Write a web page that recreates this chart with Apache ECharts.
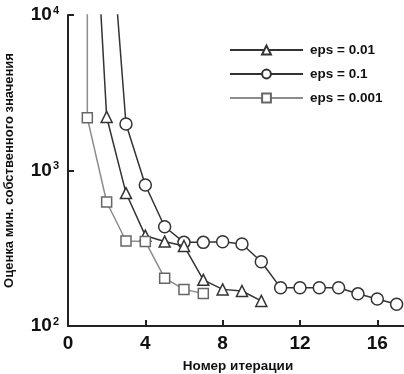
<!DOCTYPE html>
<html>
<head>
<meta charset="utf-8">
<script src="https://cdn.jsdelivr.net/npm/echarts@6/dist/echarts.min.js"></script>
<style>
  html, body { margin: 0; padding: 0; background: #fff; }
  #chart { width: 404px; height: 374px; }
</style>
</head>
<body>
<div id="chart"></div>
<script>
// Values (first point of each run is off the top of the plot)
const xTri = [1, 2, 3, 4, 5, 6, 7, 8, 9, 10];
const yTri = [380000, 2210, 716, 381, 349, 327, 198, 172, 168, 145];

const xCirc = [2, 3, 4, 5, 6, 7, 8, 9, 10, 11, 12, 13, 14, 15, 16, 17];
const yCirc = [82000, 1990, 807, 435, 345, 345, 348, 337, 259, 176, 176, 176, 176, 161, 149, 138];

const xSq = [1, 1, 2, 3, 4, 5, 6, 7];
const ySq = [1000000, 2180, 627, 352, 350, 203, 172, 162];

const seriesNames = ['eps = 0.01', 'eps = 0.1', 'eps = 0.001'];
const xTicks = [0, 4, 8, 12, 16];

const pairs = (xs, ys) => xs.map((x, i) => [x, ys[i]]);

const font = 'Liberation Sans, Arial, sans-serif';
const chart = echarts.init(document.getElementById('chart'));

chart.setOption({
  animation: false,
  backgroundColor: '#fff',
  textStyle: { fontFamily: font },
  grid: { left: 68, top: 15, width: 386.6, height: 311, containLabel: false, outerBoundsMode: 'none' },
  legend: {
    orient: 'vertical',
    left: 224,
    top: 38,
    itemWidth: 73,
    itemHeight: 11,
    itemGap: 10,
    data: seriesNames,
    textStyle: { fontSize: 13.5, fontWeight: 'bold', color: '#111', padding: [0, 0, 0, 2] }
  },
  xAxis: {
    type: 'value',
    min: 0,
    max: 20,
    interval: 4,
    axisLine: { lineStyle: { color: '#222', width: 2 } },
    axisTick: { inside: true, length: 6, lineStyle: { color: '#222', width: 2 } },
    splitLine: { show: false },
    axisLabel: {
      margin: 8,
      fontSize: 19,
      fontWeight: 'bold',
      color: '#111',
      formatter: (v) => (xTicks.indexOf(v) >= 0 ? String(v) : '')
    }
  },
  yAxis: {
    type: 'log',
    logBase: 10,
    min: 100,
    max: 10000,
    name: 'Оценка мин. собственного значения',
    nameLocation: 'middle',
    nameGap: 52,
    nameTextStyle: { fontSize: 13, fontWeight: 'bold', color: '#111' },
    axisLine: { show: true, lineStyle: { color: '#222', width: 2 } },
    axisTick: { show: true, inside: true, length: 6, lineStyle: { color: '#222', width: 2 } },
    splitLine: { show: false },
    minorTick: { show: false },
    axisLabel: {
      margin: 9,
      formatter: (v) => '{b|10}{s|' + Math.round(Math.log10(v)) + '}',
      rich: {
        b: { fontSize: 19, fontWeight: 'bold', color: '#111', lineHeight: 20 },
        s: { fontSize: 11, fontWeight: 'bold', color: '#111', verticalAlign: 'top', padding: [0, 0, 0, 1] }
      }
    }
  },
  graphic: [{
    type: 'text',
    x: 238,
    y: 366,
    style: {
      text: 'Номер итерации',
      font: 'bold 13.5px ' + font,
      fill: '#111',
      textAlign: 'center',
      textVerticalAlign: 'middle'
    }
  }],
  series: [
    {
      name: seriesNames[0],
      type: 'line',
      data: pairs(xTri, yTri),
      symbol: 'triangle',
      symbolSize: 11,
      lineStyle: { color: '#333', width: 1.5 },
      itemStyle: { color: '#fff', borderColor: '#333', borderWidth: 1.5 },
      z: 3
    },
    {
      name: seriesNames[1],
      type: 'line',
      data: pairs(xCirc, yCirc),
      symbol: 'circle',
      symbolSize: 12,
      lineStyle: { color: '#333', width: 1.5 },
      itemStyle: { color: '#fff', borderColor: '#333', borderWidth: 1.5 },
      z: 2
    },
    {
      name: seriesNames[2],
      type: 'line',
      data: pairs(xSq, ySq),
      symbol: 'rect',
      symbolSize: 10,
      lineStyle: { color: '#8c8c8c', width: 1.5 },
      itemStyle: { color: '#fff', borderColor: '#666', borderWidth: 1.5 },
      z: 4
    }
  ]
});
</script>
</body>
</html>
